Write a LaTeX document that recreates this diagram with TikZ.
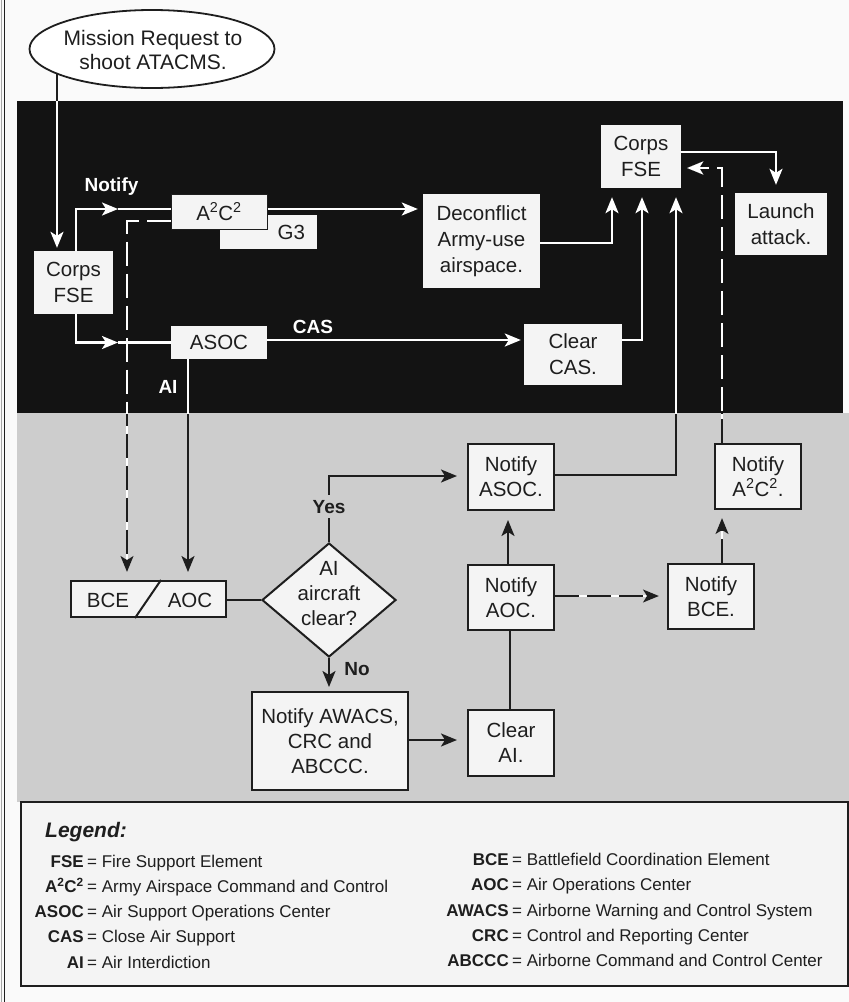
\documentclass[tikz,border=0pt]{standalone}
\usepackage{fontspec}
\setmainfont{Liberation Sans}
\usetikzlibrary{arrows.meta,shapes.geometric,calc}
\definecolor{panel}{HTML}{131313}
\definecolor{graybg}{HTML}{CDCDCD}
\definecolor{boxw}{HTML}{F4F4F4}
\definecolor{ink}{HTML}{1E1E1E}
\definecolor{page}{HTML}{FAFAFA}
\colorlet{lc}{ink}
\colorlet{gc}{white}
\newcommand\dpath[2]{\draw[conn,draw=gc,#1] #2; \draw[conn,dsh,#1] #2;}
\newcommand\allconns{%
  % black region
  \draw[conn,tip,shorten >=3pt] (ell.195) -- (ell.195 |- fse1.north);
  \draw[conn,tip] (fse1.north -| 76,0) |- (n1);
  \draw[conn] (n1) -- (a2c2.west |- n1);
  \draw[conn,tip,shorten >=5pt] (a2c2.east |- n1) -- (deconf.west |- n1);
  \dpath{tip,shorten >=8pt}{(a2c2.west |- 0,221) -| (bceaoc.north -| 127,0)}
  \draw[conn,tip] (fse1.south -| 76,0) |- (n2);
  \draw[conn] (n2) -- (asoc.west);
  \draw[conn,tip,shorten >=3pt] (asoc.east |- 0,340) -- (clearcas.west |- 0,340);
  \draw[conn,tip,shorten >=8pt] (asoc.south -| 188,0) -- (bceaoc.north -| 188,0);
  \draw[conn,tip,shorten >=9pt] (deconf.east |- 0,243) -| (fse2.south -| 612,0);
  \draw[conn,tip,shorten >=9pt] (clearcas.east |- 0,340) -| (fse2.south -| 642,0);
  \draw[conn,tip,shorten >=9pt] (nasoc.east |- 0,475) -| (fse2.south -| 676,0);
  \dpath{tip,shorten >=6pt}{(na2c2.north -| 722,0) |- (fse2.east |- 0,168)}
  \draw[conn,tip,shorten >=8pt] (fse2.east |- 0,152) -| (launch.north -| 776,0);
  % gray region
  \draw[conn] (bceaoc.east |- dia.west) -- (dia.west);
  \draw[conn,tip,shorten >=10pt] (dia.north) |- (nasoc.west |- 0,476);
  \draw[conn,tip,shorten >=4pt] (dia.south) -- (awacs.north -| dia.south);
  \draw[conn,tip,shorten >=10pt] (awacs.east |- 0,740) -- (clearai.west |- 0,740);
  \draw[conn,tip,shorten >=9pt] (naoc.north -| 508,0) -- (nasoc.south -| 508,0);
  \draw[conn] (clearai.north -| 510,0) -- (naoc.south -| 510,0);
  \dpath{tip,shorten >=8pt}{(naoc.east |- 0,596) -- (nbce.west |- 0,596)}
  \dpath{tip,shorten >=8pt}{(nbce.north -| 722,0) -- (na2c2.south -| 722,0)}
}
\begin{document}
\begin{tikzpicture}[x=1pt,y=-1pt,
  wbox/.style={rectangle, fill=boxw, text=ink, inner sep=0pt, align=center,
    font=\fontsize{20.5}{26}\selectfont},
  bbox/.style={wbox, draw=ink, line width=2pt, font=\fontsize{20.5}{25}\selectfont},
  conn/.style={draw=lc, line width=2.2pt},
  tip/.style={-{Stealth[length=16pt,width=13pt,inset=4pt]}},
  dsh/.style={dash pattern=on 24pt off 8pt},
  lbl/.style={font=\fontsize{19}{22}\selectfont\bfseries, inner sep=1pt, anchor=base},
  legab/.style={font=\fontsize{17}{21}\selectfont\bfseries, text=ink, inner sep=0pt, anchor=base east},
  legdef/.style={font=\fontsize{17}{21}\selectfont, text=ink, inner sep=0pt, anchor=base west},
]
% backgrounds
\path[use as bounding box, fill=page] (0,0) rectangle (849,1002);
\draw[gray!70, line width=1pt] (1.5,0) -- (1.5,1002);
\draw[ink, line width=1.8pt] (4.5,0) -- (4.5,1002);
\fill[graybg] (17,413) rectangle (849,802);
\fill[panel] (17,101) rectangle (843,413);

% top
\node[ellipse, draw=ink, line width=1.8pt, fill=white, minimum width=245, minimum height=78, inner sep=0pt] (ell) at (152,49) {};
\node[align=center, text=ink, font=\fontsize{21}{24}\selectfont, inner sep=0pt] (ellt) at (153,50) {Mission Request to\\shoot ATACMS.};

% black region boxes
\node[wbox, minimum width=79, minimum height=63] (fse1) at (73.5,282.5) {Corps\\FSE};
\node[wbox, minimum width=97, minimum height=34, text width=73, align=right, inner xsep=12pt] (g3) at (268.5,232) {G3};
\node[wbox, draw=ink, line width=1pt, minimum width=96, minimum height=35] (a2c2) at (219,211.5) {A\textsuperscript{2}C\textsuperscript{2}};
\node[wbox, minimum width=117, minimum height=94] (deconf) at (481.5,241) {Deconflict\\Army-use\\airspace.};
\node[wbox, minimum width=80, minimum height=63] (fse2) at (641,156.5) {Corps\\FSE};
\node[wbox, minimum width=92, minimum height=62] (launch) at (781,224) {Launch\\attack.};
\node[wbox, minimum width=96, minimum height=33] (asoc) at (219,342.5) {ASOC};
\node[wbox, minimum width=98, minimum height=61] (clearcas) at (573,354.5) {Clear\\CAS.};

% gray region boxes
\node[bbox, minimum width=155, minimum height=36] (bceaoc) at (148.5,599) {};
\draw[ink, line width=2pt] ([xshift=91pt]bceaoc.north west) -- ([xshift=65pt]bceaoc.south west);
\node[text=ink, font=\fontsize{20.5}{25}\selectfont, inner sep=0pt] (bce) at (108,600) {BCE};
\node[text=ink, font=\fontsize{20.5}{25}\selectfont, inner sep=0pt] (aoc) at (190,600) {AOC};
\node[diamond, draw=ink, line width=2pt, fill=boxw, minimum width=134, minimum height=114, inner sep=0pt] (dia) at (329,600) {};
\node[align=center, text=ink, font=\fontsize{20.5}{25}\selectfont, inner sep=0pt] (diat) at (329,594) {AI\\aircraft\\clear?};
\node[bbox, minimum width=156, minimum height=98] (awacs) at (330,741) {Notify AWACS,\\CRC and\\ABCCC.};
\node[bbox, minimum width=86, minimum height=66] (nasoc) at (511,477) {Notify\\ASOC.};
\node[bbox, minimum width=86, minimum height=65] (naoc) at (511,597.5) {Notify\\AOC.};
\node[bbox, minimum width=86, minimum height=66] (clearai) at (511,743) {Clear\\AI.};
\node[bbox, minimum width=86, minimum height=65] (nbce) at (711,596.5) {Notify\\BCE.};
\node[bbox, minimum width=86, minimum height=65] (na2c2) at (758,476.5) {Notify\\A\textsuperscript{2}C\textsuperscript{2}.};

% connectors
\coordinate (n1) at (118,209);
\coordinate (n2) at (118,342.5);
\allconns
\begin{scope}
  \clip (17,101) rectangle (843,413);
  \colorlet{lc}{white}\colorlet{gc}{panel}
  \allconns
\end{scope}

% labels
\node[lbl, text=white] (lnotify) at (111.5,191.5) {Notify};
\node[lbl, text=white] (lcas) at (313,333) {CAS};
\node[lbl, text=white] (lai) at (168,393) {AI};
\node[lbl, text=ink, fill=graybg, inner ysep=5pt, text depth=0pt] (lyes) at (329,513) {Yes};
\node[lbl, text=ink] (lno) at (357,675) {No};

% legend
\node[draw=ink, line width=2pt, fill=boxw, minimum width=827, minimum height=184, inner sep=0pt] (legend) at (434.5,894) {};
\node[font=\fontsize{21}{24}\selectfont\bfseries\itshape, text=ink, inner sep=0pt, anchor=base west] (legt) at (45,837) {Legend:};
\foreach \a/\d [count=\i] in {FSE/Fire Support Element,{A\textsuperscript{2}C\textsuperscript{2}}/Army Airspace Command and Control,ASOC/Air Support Operations Center,CAS/Close Air Support,AI/Air Interdiction}{
  \node[legab] (la\i) at (84,{867+25.3*(\i-1)}) {\a};
  \node[legdef] (ld\i) at (87,{867+25.3*(\i-1)}) {= \d};
}
\foreach \a/\d [count=\i] in {BCE/Battlefield Coordination Element,AOC/Air Operations Center,AWACS/Airborne Warning and Control System,CRC/Control and Reporting Center,ABCCC/Airborne Command and Control Center}{
  \node[legab] (ra\i) at (509,{865.5+25.3*(\i-1)}) {\a};
  \node[legdef] (rd\i) at (512,{865.5+25.3*(\i-1)}) {= \d};
}
\end{tikzpicture}
\end{document}
